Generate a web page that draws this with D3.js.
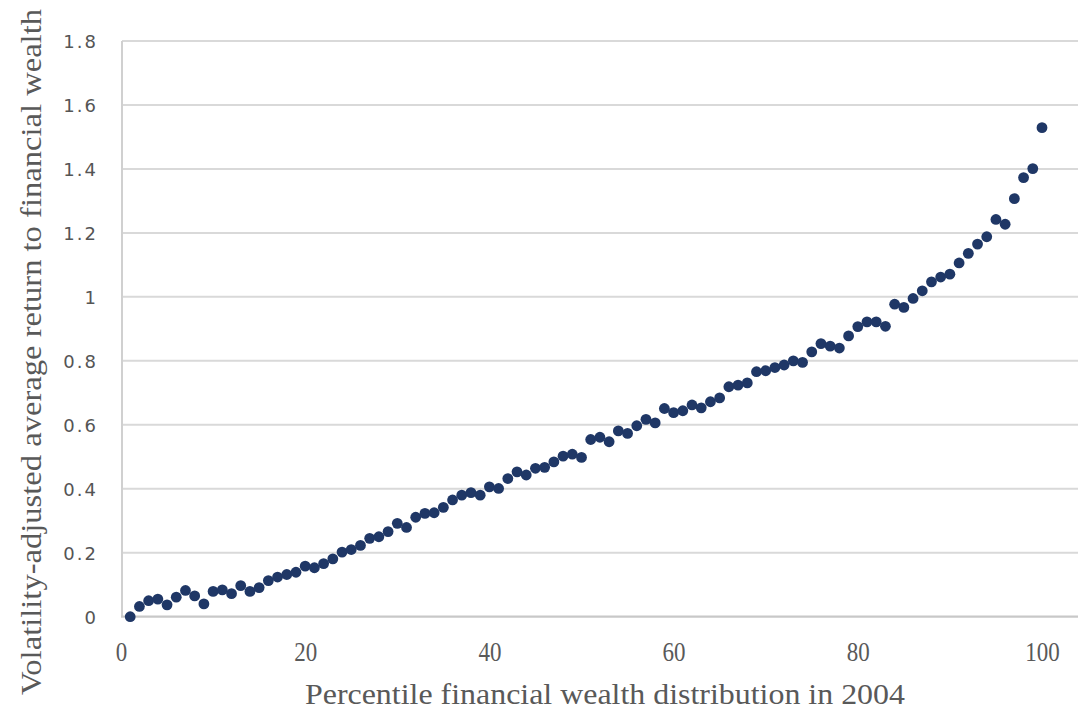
<!DOCTYPE html>
<html>
<head>
<meta charset="utf-8">
<script src="https://cdn.jsdelivr.net/npm/d3@7"></script>
<style>
  html, body { margin: 0; padding: 0; background: #fff; }
  svg { display: block; }
</style>
</head>
<body>
<svg id="chart" width="1078" height="709"></svg>
<script>
// ---- Data ----
const percentiles = d3.range(1, 101);
const returns = [
  0.000, 0.032, 0.050, 0.055, 0.037, 0.061, 0.082, 0.065, 0.040, 0.079,
  0.084, 0.072, 0.097, 0.079, 0.091, 0.113, 0.124, 0.132, 0.139, 0.158,
  0.153, 0.166, 0.181, 0.202, 0.210, 0.223, 0.245, 0.250, 0.266, 0.292,
  0.279, 0.311, 0.323, 0.325, 0.342, 0.365, 0.380, 0.388, 0.380, 0.406,
  0.401, 0.432, 0.453, 0.443, 0.464, 0.467, 0.484, 0.502, 0.508, 0.498,
  0.554, 0.561, 0.547, 0.581, 0.573, 0.597, 0.617, 0.606, 0.651, 0.638,
  0.644, 0.662, 0.653, 0.672, 0.684, 0.719, 0.724, 0.731, 0.766, 0.769,
  0.779, 0.787, 0.800, 0.795, 0.828, 0.854, 0.846, 0.840, 0.878, 0.907,
  0.922, 0.922, 0.908, 0.977, 0.967, 0.995, 1.019, 1.047, 1.062, 1.071,
  1.106, 1.136, 1.165, 1.188, 1.242, 1.227, 1.307, 1.373, 1.401, 1.529
];
const xTicks = [0, 20, 40, 60, 80, 100];
const yTicks = [0, 0.2, 0.4, 0.6, 0.8, 1, 1.2, 1.4, 1.6, 1.8];
const xTitle = "Percentile financial wealth distribution in 2004";
const yTitle = "Volatility-adjusted average return to financial wealth";

// ---- Layout ----
const svg = d3.select("#chart");
const mLeft = 121, mRight = 1042, mTop = 41, mBottom = 616.7;
const gridRight = 1078;

const x = d3.scaleLinear().domain([0, 100]).range([mLeft, mRight]);
const y = d3.scaleLinear().domain([0, 1.8]).range([mBottom, mTop]);

// Gridlines
svg.append("g")
  .selectAll("line")
  .data(yTicks.filter(d => d > 0))
  .join("line")
  .attr("x1", mLeft + 1).attr("x2", gridRight)
  .attr("y1", d => y(d)).attr("y2", d => y(d))
  .attr("stroke", "#d9d9d9").attr("stroke-width", 2);

// Left axis line
svg.append("line")
  .attr("x1", mLeft + 1).attr("x2", mLeft + 1)
  .attr("y1", mTop).attr("y2", mBottom)
  .attr("stroke", "#d0d0d0").attr("stroke-width", 2);

// Bottom axis line
svg.append("line")
  .attr("x1", mLeft).attr("x2", gridRight)
  .attr("y1", mBottom).attr("y2", mBottom)
  .attr("stroke", "#c8c8c8").attr("stroke-width", 2.2);

// Y tick labels
const yAxis = d3.axisLeft(y).tickValues(yTicks).tickSize(0).tickPadding(0)
  .tickFormat(d => d3.format("")(+d.toFixed(1)));
const gy = svg.append("g").attr("transform", `translate(98,0)`).call(yAxis);
gy.select(".domain").remove();
gy.selectAll("text")
  .attr("fill", "#555555")
  .style("font-family", "'DejaVu Sans', Verdana, sans-serif")
  .style("font-size", "18px")
  .style("letter-spacing", "2px")
  .attr("dy", "0.35em");

// X tick labels
const xAxis = d3.axisBottom(x).tickValues(xTicks).tickSize(0).tickPadding(0)
  .tickFormat(d3.format("d"));
const gx = svg.append("g").attr("transform", `translate(0,652)`).call(xAxis);
gx.select(".domain").remove();
gx.selectAll("text")
  .attr("fill", "#595959")
  .attr("dy", "0.35em")
  .style("font-family", "'Liberation Serif', 'DejaVu Serif', serif")
  .style("font-size", "27px")
  .attr("textLength", d => String(d).length * 11.5)
  .attr("lengthAdjust", "spacingAndGlyphs");

// Axis titles
svg.append("text")
  .attr("x", 605).attr("y", 693)
  .attr("text-anchor", "middle")
  .attr("dy", "0.35em")
  .attr("fill", "#595959")
  .style("font-family", "'Liberation Serif', 'DejaVu Serif', serif")
  .style("font-size", "30px")
  .attr("textLength", 600)
  .attr("lengthAdjust", "spacingAndGlyphs")
  .text(xTitle);

svg.append("text")
  .attr("transform", "translate(30,352) rotate(-90)")
  .attr("text-anchor", "middle")
  .attr("dy", "0.35em")
  .attr("fill", "#595959")
  .style("font-family", "'Liberation Serif', 'DejaVu Serif', serif")
  .style("font-size", "30px")
  .attr("textLength", 686)
  .attr("lengthAdjust", "spacingAndGlyphs")
  .text(yTitle);

// Points
svg.append("g")
  .selectAll("circle")
  .data(percentiles.map((p, i) => ({ p, v: returns[i] })))
  .join("circle")
  .attr("cx", d => x(d.p))
  .attr("cy", d => y(d.v))
  .attr("r", 5.4)
  .attr("fill", "#1f3766");
</script>
</body>
</html>
